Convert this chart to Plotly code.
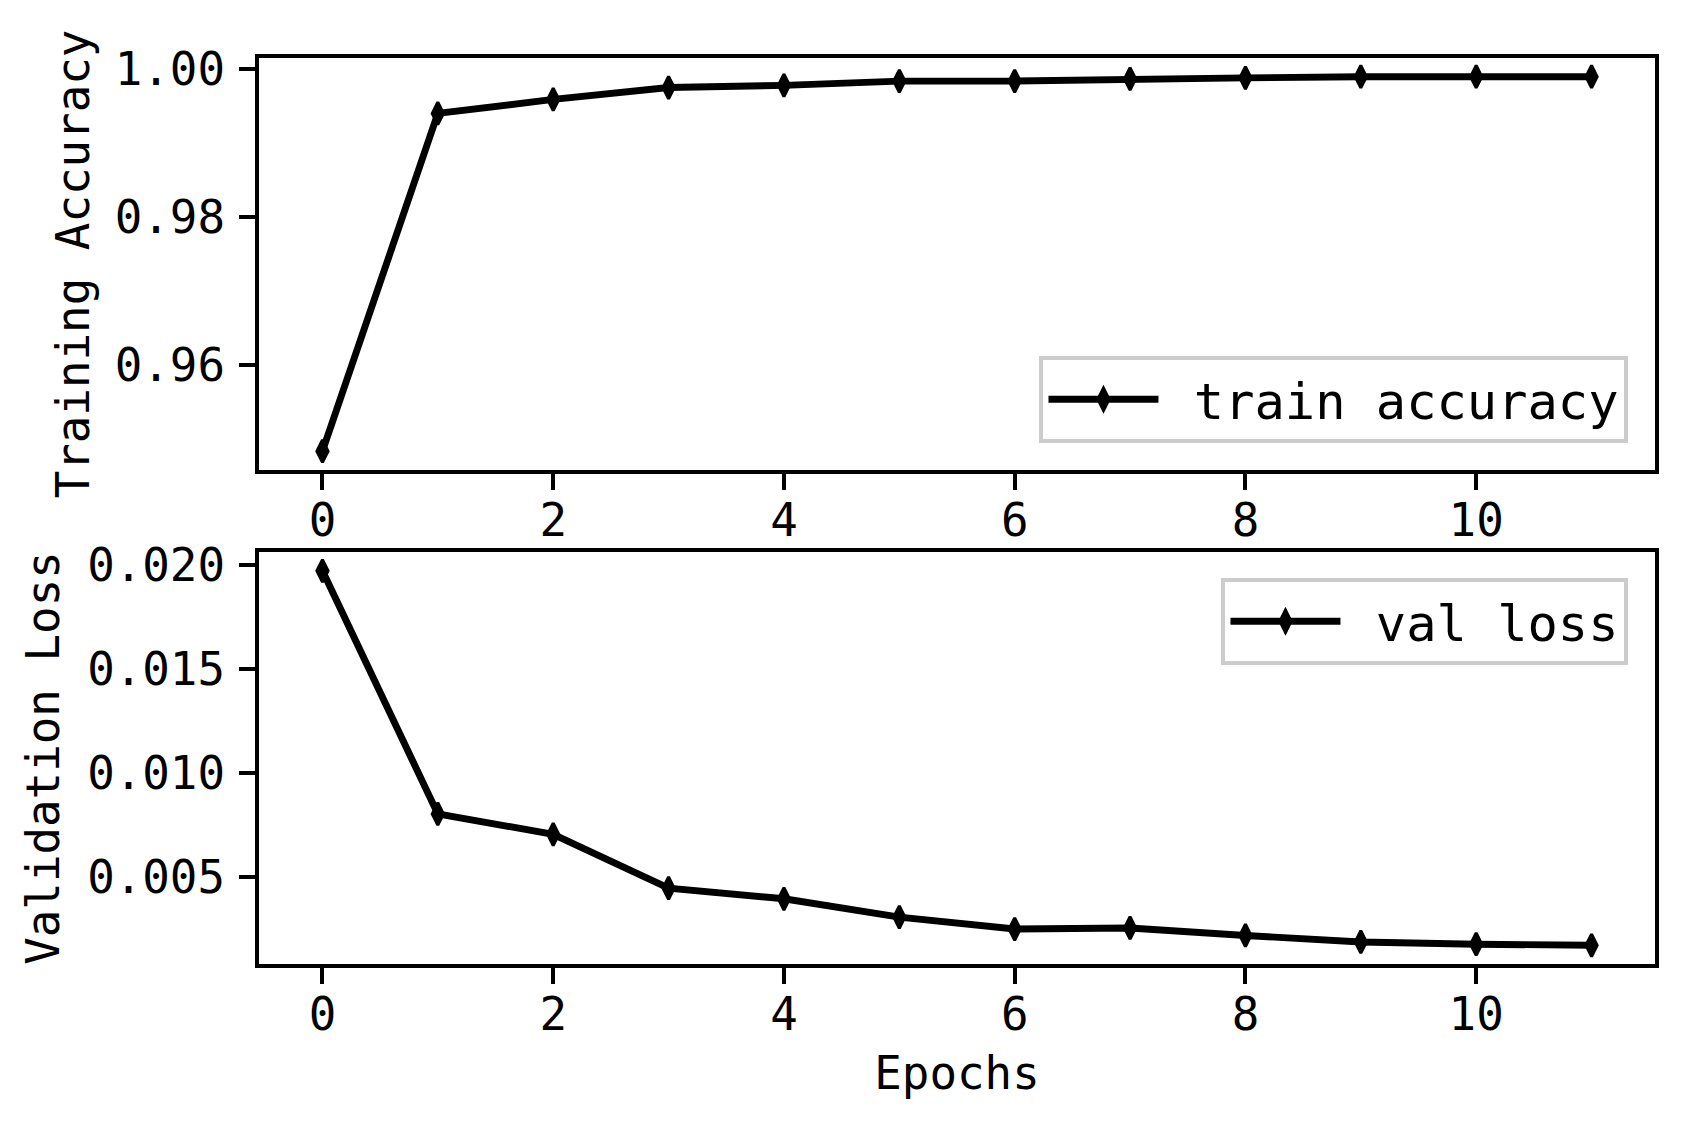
import plotly.graph_objects as go
from plotly.subplots import make_subplots

epochs = list(range(12))
train_accuracy = [0.9483, 0.99401, 0.99591, 0.99752, 0.99781, 0.99839,
                  0.99839, 0.99869, 0.99883, 0.99898, 0.99898, 0.99898]
val_loss = [0.0197, 0.00804, 0.00706, 0.00448, 0.00397, 0.00309,
            0.00252, 0.00257, 0.00221, 0.00190, 0.00179, 0.00174]
x_ticks = [0, 2, 4, 6, 8, 10]
acc_ticks = [0.96, 0.98, 1.00]
loss_ticks = [0.005, 0.010, 0.015, 0.020]

FONT = "DejaVu Sans Mono"
FS = 45.8
LFS = 50.4
LW = 6.9
AXLW = 3.67
NB = "\u00a0"


def mrange(v):
    lo, hi = min(v), max(v)
    pad = (hi - lo) * 0.05
    return [lo - pad, hi + pad]


fig = make_subplots(rows=2, cols=1, shared_xaxes=False, vertical_spacing=0.0906)

marker = dict(symbol="diamond-tall", size=16, color="black",
              line=dict(color="black", width=3))
fig.add_trace(go.Scatter(x=epochs, y=train_accuracy, mode="lines+markers",
                         name=NB + "train accuracy",
                         line=dict(color="black", width=LW), marker=marker,
                         legend="legend", showlegend=True), row=1, col=1)
fig.add_trace(go.Scatter(x=epochs, y=val_loss, mode="lines+markers",
                         name=NB + "val loss",
                         line=dict(color="black", width=LW), marker=marker,
                         legend="legend2", showlegend=True), row=2, col=1)

axis_common = dict(showline=True, linecolor="black", linewidth=AXLW, mirror=True,
                   ticks="outside", ticklen=16, tickwidth=AXLW, tickcolor="black",
                   showgrid=False, zeroline=False,
                   tickfont=dict(family=FONT, size=FS, color="black"))

fig.update_xaxes(range=[-0.55, 11.55], tickvals=x_ticks, ticklabelstandoff=-9,
                 **axis_common)
fig.update_xaxes(title=dict(text="Epochs", font=dict(family=FONT, size=FS, color="black"),
                            standoff=18), row=2, col=1)
fig.update_yaxes(**axis_common, ticklabelstandoff=5)
fig.update_yaxes(range=mrange(train_accuracy), tickvals=acc_ticks,
                 ticktext=[f"{v:.2f}" for v in acc_ticks],
                 title=dict(text="Training Accuracy", font=dict(family=FONT, size=FS, color="black"),
                            standoff=12), row=1, col=1)
fig.update_yaxes(range=mrange(val_loss), tickvals=loss_ticks,
                 ticktext=[f"{v:.3f}" for v in loss_ticks],
                 title=dict(text="Validation Loss", font=dict(family=FONT, size=FS, color="black"),
                            standoff=14), row=2, col=1)

legend_common = dict(bgcolor="rgba(255,255,255,0.8)", bordercolor="#cccccc", borderwidth=4,
                     font=dict(family=FONT, size=LFS, color="black"), itemwidth=110)

fig.update_layout(
    width=1671, height=1114,
    margin=dict(l=251, r=24, t=50, b=158),
    paper_bgcolor="white", plot_bgcolor="white",
    font=dict(family=FONT, size=FS, color="black"),
    showlegend=True,
    legend=dict(x=0.981, y=0.575, xanchor="right", yanchor="bottom", **legend_common),
    legend2=dict(x=0.981, y=0.426, xanchor="right", yanchor="top", **legend_common),
)

fig.write_html("out.html")
